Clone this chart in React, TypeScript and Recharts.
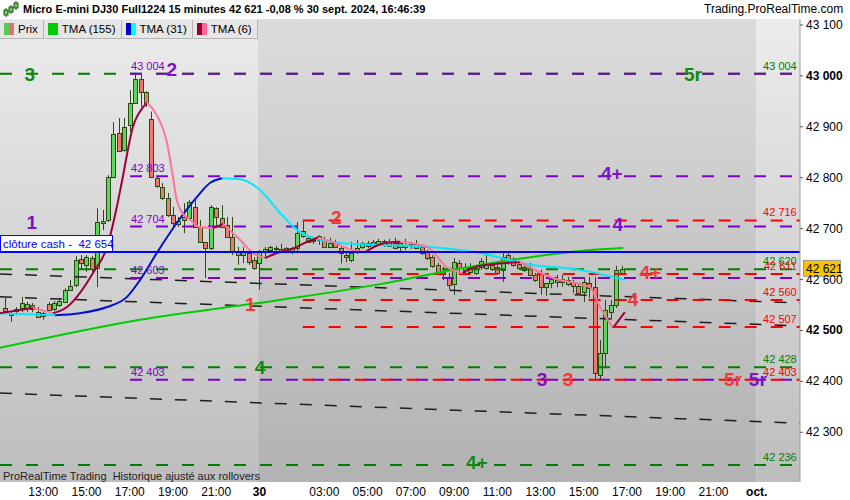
// 15-minute Micro E-mini DJ30 candles with three TMA lines, pivot levels
// (green / purple / red dashed), a down-sloping channel and the cash close.
import React from "react";
import {
  Bar, ComposedChart, Line, ReferenceArea, ReferenceDot, ReferenceLine, XAxis, YAxis,
} from "recharts";

const W = 850;
const H = 500;
const X_MAX = 148;
const Y_MIN = 42202.4;
const Y_MAX = 43111.7;
const FRI_END = 47.7;
const MON_END = 139.9;
const PURPLE_FROM = 24.05;
const RED_FROM = 56;

const FONT = "'Liberation Sans', Arial, sans-serif";
const NARROW = "'Liberation Sans Narrow', 'Liberation Sans', Arial, sans-serif";

const WICK = "#2b4a14";
const UP_BODY = "#5cd65c";
const DOWN_BODY = "#ec7a6e";
const COLORS: Record<string, string> = { green: "#008000", purple: "#7f00c8", red: "#ff0000" };
const TAG_COLORS: Record<string, string> = { green: "#108a10", purple: "#7f10c8", red: "#f03a3a" };

// bar #1 = Fri 11:15 ... bar #47 = Fri 22:45, bar #48 = Mon 00:00 ... bar #115 = Mon 16:45
const FIRST_BAR = 1;
const ohlc: [number, number, number, number][] = [
  [42544, 42564, 42536, 42538], [42530, 42536, 42517, 42534], [42538, 42546, 42530, 42542],
  [42544, 42566, 42536, 42554], [42544, 42556, 42536, 42552], [42550, 42554, 42536, 42542],
  [42536, 42546, 42526, 42527], [42528, 42536, 42521, 42534], [42552, 42556, 42538, 42540],
  [42542, 42558, 42538, 42554], [42550, 42564, 42546, 42558], [42556, 42583, 42554, 42579],
  [42579, 42599, 42579, 42587], [42589, 42646, 42585, 42638], [42640, 42648, 42619, 42632],
  [42629, 42648, 42615, 42644], [42642, 42646, 42615, 42621], [42623, 42740, 42585, 42713],
  [42711, 42737, 42697, 42715], [42717, 42805, 42713, 42801], [42801, 42909, 42799, 42886],
  [42888, 42917, 42851, 42852], [42854, 42917, 42851, 42900], [42903, 42972, 42890, 42947],
  [42947, 43006, 42945, 42994], [42994, 43002, 42939, 42968], [42968, 42970, 42939, 42947],
  [42915, 42930, 42799, 42801], [42799, 42803, 42780, 42784], [42782, 42790, 42756, 42760],
  [42760, 42770, 42723, 42727], [42727, 42743, 42703, 42711], [42709, 42723, 42703, 42715],
  [42723, 42750, 42691, 42717], [42721, 42756, 42717, 42752], [42742, 42756, 42703, 42703],
  [42703, 42717, 42674, 42674], [42674, 42674, 42603, 42662], [42662, 42746, 42658, 42742],
  [42740, 42742, 42703, 42723], [42721, 42746, 42701, 42703], [42707, 42723, 42682, 42684],
  [42684, 42723, 42648, 42654], [42654, 42664, 42629, 42648], [42648, 42664, 42632, 42654],
  [42652, 42658, 42629, 42634], [42638, 42644, 42619, 42623], [42632, 42658, 42580, 42654],
  [42654, 42664, 42644, 42660], [42658, 42666, 42652, 42664], [42662, 42666, 42656, 42660],
  [42660, 42670, 42652, 42656], [42658, 42664, 42652, 42662], [42656, 42664, 42650, 42662],
  [42662, 42713, 42654, 42691], [42685, 42717, 42682, 42695], [42682, 42687, 42672, 42674],
  [42676, 42680, 42670, 42678], [42678, 42687, 42668, 42685], [42678, 42684, 42662, 42664],
  [42664, 42682, 42662, 42672], [42672, 42678, 42662, 42664], [42662, 42664, 42632, 42652],
  [42648, 42652, 42634, 42644], [42638, 42674, 42634, 42652], [42656, 42678, 42650, 42662],
  [42664, 42674, 42660, 42672], [42666, 42676, 42662, 42672], [42668, 42678, 42664, 42674],
  [42670, 42680, 42666, 42676], [42668, 42678, 42664, 42676], [42674, 42680, 42664, 42666],
  [42672, 42682, 42660, 42662], [42664, 42674, 42656, 42672], [42664, 42680, 42658, 42668],
  [42666, 42674, 42660, 42670], [42670, 42678, 42660, 42662], [42664, 42668, 42648, 42652],
  [42654, 42658, 42638, 42642], [42644, 42648, 42623, 42627], [42629, 42633, 42609, 42613],
  [42611, 42625, 42599, 42617], [42605, 42613, 42580, 42589], [42591, 42642, 42570, 42634],
  [42632, 42638, 42609, 42623], [42619, 42632, 42609, 42625], [42625, 42632, 42611, 42615],
  [42613, 42629, 42609, 42623], [42625, 42642, 42619, 42636], [42623, 42652, 42619, 42633],
  [42629, 42635, 42617, 42621], [42625, 42635, 42609, 42613], [42619, 42652, 42595, 42644],
  [42648, 42654, 42629, 42638], [42640, 42644, 42625, 42629], [42630, 42634, 42619, 42623],
  [42624, 42630, 42615, 42619], [42623, 42633, 42607, 42609], [42609, 42613, 42595, 42599],
  [42613, 42619, 42570, 42585], [42585, 42593, 42568, 42593], [42593, 42603, 42583, 42601],
  [42595, 42609, 42585, 42599], [42601, 42609, 42586, 42595], [42591, 42605, 42587, 42599],
  [42595, 42599, 42573, 42587], [42587, 42593, 42573, 42574], [42575, 42605, 42556, 42595],
  [42593, 42605, 42564, 42583], [42585, 42605, 42405, 42416], [42413, 42481, 42403, 42456],
  [42456, 42560, 42428, 42540], [42536, 42560, 42524, 42550], [42550, 42627, 42544, 42619],
  [42613, 42627, 42609, 42621],
];

// [bar index, value]
const tma155: [number, number][] = [
  [0, 42466], [25.9, 42521], [51.8, 42560], [70.3, 42591], [80.8, 42613],
  [91.9, 42634], [98.1, 42644], [107.3, 42656], [115.3, 42662],
];
const tma31: [number, number][] = [
  [0, 42534], [10.2, 42530], [14.8, 42534], [19.8, 42546], [23.5, 42566], [25.9, 42599],
  [29, 42652], [32.7, 42711], [36.4, 42762], [38.9, 42790], [41.1, 42799], [44.4, 42797],
  [48.1, 42776], [51.8, 42731], [55.5, 42693], [59.2, 42678], [62.9, 42672], [70.3, 42668],
  [79.6, 42664], [88.8, 42652], [98.1, 42629], [107.3, 42619], [115.6, 42599],
];
const tma6: [number, number][] = [
  [0, 42534], [3.7, 42540], [6.1, 42544], [9.8, 42534], [12.4, 42546], [14.8, 42574],
  [17.2, 42613], [19.8, 42664], [21.6, 42742], [22.6, 42795], [24.6, 42900], [26.5, 42939],
  [27.2, 42947], [29, 42923], [30.9, 42868], [31.8, 42815], [32.7, 42756], [33.7, 42731],
  [35.2, 42717], [37, 42703], [39.4, 42701], [41.3, 42709], [44.4, 42678], [46.8, 42652],
  [49, 42642], [51.8, 42654], [54, 42660], [56.4, 42672], [58.8, 42682], [61.4, 42674],
  [65.1, 42658], [67.5, 42654], [71.2, 42672], [74, 42674], [79, 42664], [82.6, 42625],
  [85.6, 42613], [87.4, 42623], [91.9, 42631], [96.2, 42634], [102.3, 42603], [109.1, 42585],
  [111, 42546], [113.4, 42505], [115.6, 42536],
];

const greenLevels = [43004, 42620, 42428, 42236];
const purpleLevels = [43004, 42803, 42704, 42603, 42403];
const redLevels = [42716, 42611, 42560, 42507, 42403];
const cashClose = 42654;
// sloping channel: value at bar 0 and at the right edge
const channel: [number, number][] = [[42611, 42554], [42566, 42509], [42377, 42318]];

const tags = [
  { t: "3", i: 5.5, v: 43004, set: "green" }, { t: "2", i: 31.8, v: 43013, set: "purple" },
  { t: "5r", i: 128.2, v: 43004, set: "green" }, { t: "4+", i: 113.2, v: 42810, set: "purple" },
  { t: "1", i: 5.9, v: 42713, set: "purple" }, { t: "2", i: 62.2, v: 42722, set: "red" },
  { t: "4", i: 114.3, v: 42709, set: "purple" }, { t: "4+", i: 120.3, v: 42614, set: "red" },
  { t: "4", i: 117.1, v: 42561, set: "red" }, { t: "1", i: 46.3, v: 42551, set: "red" },
  { t: "4", i: 48.1, v: 42428, set: "green" }, { t: "3", i: 100.3, v: 42404, set: "purple" },
  { t: "3", i: 105.1, v: 42404, set: "red" }, { t: "5r", i: 135.6, v: 42404, set: "red" },
  { t: "5r", i: 140.2, v: 42404, set: "purple" }, { t: "4+", i: 88.2, v: 42241, set: "green" },
];

const xTicks = [8, 16, 24, 32, 40, 48, 60, 68, 76, 84, 92, 100, 108, 116, 124, 132, 140];
const xLabels = ["13:00", "15:00", "17:00", "19:00", "21:00", "30", "03:00", "05:00", "07:00",
  "09:00", "11:00", "13:00", "15:00", "17:00", "19:00", "21:00", "oct."];
const yTicks = [42300, 42400, 42500, 42600, 42700, 42800, 42900, 43000, 43100];
const boldY = [43000, 42500];

const fmt = (v: number) => `${Math.floor(v / 1000)} ${String(Math.round(v) % 1000).padStart(3, "0")}`;

const data = ohlc.map(([o, h, l, c], k) => ({ i: FIRST_BAR + k, o, h, l, c, range: [l, h] }));
const last = ohlc[ohlc.length - 1][3];

// split a curve into rising / falling runs (the TMAs change colour with direction)
function runs(pts: [number, number][]) {
  const out: { up: boolean; pts: { i: number; v: number }[] }[] = [];
  for (let k = 1; k < pts.length; k++) {
    const up = pts[k][1] >= pts[k - 1][1];
    const cur = out[out.length - 1];
    const p = { i: pts[k][0], v: pts[k][1] };
    if (cur && cur.up === up) cur.pts.push(p);
    else out.push({ up, pts: [{ i: pts[k - 1][0], v: pts[k - 1][1] }, p] });
  }
  return out;
}

function Candle(props: any) {
  const { x, y, width, height, payload } = props;
  if (!payload) return null;
  const top = Math.min(y, y + height);
  const bot = Math.max(y, y + height);
  const { o, h, l, c } = payload;
  const k = h === l ? 0 : (bot - top) / (h - l);
  const py = (v: number) => top + (h - v) * k;
  const cx = Math.round(x + width / 2) + 0.5;
  const bt = Math.round(py(Math.max(o, c))) + 0.5;
  const bb = Math.round(py(Math.min(o, c))) + 0.5;
  return (
    <g>
      <line x1={cx} x2={cx} y1={top} y2={bot} stroke={WICK} strokeWidth={1} />
      <rect x={cx - 2} y={bt} width={4} height={Math.max(bb - bt, 1)}
        fill={c >= o ? UP_BODY : DOWN_BODY} stroke={WICK} strokeWidth={1} />
    </g>
  );
}

const XTick = (p: any) => {
  const lab = xLabels[xTicks.indexOf(p.payload.value)];
  const bold = lab === "30" || lab === "oct.";
  return (
    <text x={p.x} y={p.y + 14} textAnchor="middle" fontSize={12} fontFamily={NARROW}
      fontWeight={bold ? 700 : 400} fill="#000">{lab}</text>
  );
};

const YTick = (p: any) => (
  <text x={p.x} y={p.y + 4} textAnchor="start" fontSize={12} fontFamily={FONT}
    fontWeight={boldY.includes(p.payload.value) ? 700 : 400} fill="#000">{fmt(p.payload.value)}</text>
);

const edgeLabel = (text: string, color: string, anchor: "start" | "end") => (p: any) => {
  const vb = p.viewBox || {};
  return (
    <text x={vb.x} y={vb.y - 4} textAnchor={anchor} fontSize={11} fontFamily={FONT} fill={color}>{text}</text>
  );
};

const tagLabel = (text: string, color: string) => (p: any) => {
  const vb = p.viewBox || {};
  return (
    <text x={vb.x} y={vb.y + 7} textAnchor="middle" fontSize={19} fontWeight={700}
      fontFamily={FONT} fill={color}>{text}</text>
  );
};

const cashLabel = (p: any) => {
  const vb = p.viewBox || {};
  return (
    <g>
      <rect x={vb.x + 0.5} y={vb.y - 16.5} width={112} height={16} fill="#fff" stroke="#0000ff" />
      <text x={vb.x + 3} y={vb.y - 4.5} fontSize={11.5} fontFamily={FONT} fill="#0000ff"
        style={{ whiteSpace: "pre" }}>{`clôture cash -  ${fmt(cashClose)}`}</text>
    </g>
  );
};

const priceTag = (p: any) => {
  const vb = p.viewBox || {};
  return (
    <g>
      <rect x={vb.x + 3.5} y={vb.y - 8.5} width={37} height={16} fill="#f7c600" stroke="#999" />
      <text x={vb.x + 6} y={vb.y + 4} fontSize={12} fontFamily={FONT} fill="#000">{fmt(last)}</text>
    </g>
  );
};

const legend = [
  { name: "Prix", a: "#55cc55", b: "#e07070" },
  { name: "TMA (155)", a: "#00cc00", b: "#00cc00" },
  { name: "TMA (31)", a: "#0000cc", b: "#00ffff" },
  { name: "TMA (6)", a: "#990033", b: "#ff6699" },
];

const dashed = (levels: number[], set: string, from: number) =>
  levels.map((v) => (
    <ReferenceLine key={`${set}${v}`} segment={[{ x: from, y: v }, { x: X_MAX, y: v }]}
      stroke={COLORS[set]} strokeWidth={2} strokeDasharray="12 14" ifOverflow="visible" />
  ));

export default function App() {
  const r155 = [{ up: true, pts: tma155.map(([i, v]) => ({ i, v })) }];
  const r31 = runs(tma31);
  const r6 = runs(tma6);
  return (
    <div style={{ position: "absolute", left: 0, top: 0, width: W, height: H, background: "#fff", fontFamily: FONT }}>
      <ComposedChart width={W} height={H} data={data} margin={{ top: 19, right: 0, bottom: 0, left: 0 }}>
        <defs>
          <linearGradient id="bgLight" x1="0" y1="0" x2="0" y2="1">
            <stop offset="0%" stopColor="#ececec" />
            <stop offset="100%" stopColor="#bdbdbd" />
          </linearGradient>
          <linearGradient id="bgDark" x1="0" y1="0" x2="0" y2="1">
            <stop offset="0%" stopColor="#dcdcdc" />
            <stop offset="100%" stopColor="#b2b2b2" />
          </linearGradient>
        </defs>
        <XAxis type="number" dataKey="i" domain={[0, X_MAX]} ticks={xTicks} interval={0} allowDataOverflow
          height={18} axisLine={false} tickLine={false} tickSize={0} tickMargin={0} tick={XTick} />
        <YAxis orientation="right" domain={[Y_MIN, Y_MAX]} ticks={yTicks} interval={0} allowDataOverflow
          width={50} axisLine={{ stroke: "#9a9a9a" }} tickLine={{ stroke: "#555" }} tickSize={3} tickMargin={3}
          tick={YTick} />
        <ReferenceArea x1={0} x2={FRI_END} fill="url(#bgLight)" fillOpacity={1} strokeWidth={0} />
        <ReferenceArea x1={FRI_END} x2={MON_END} fill="url(#bgDark)" fillOpacity={1} strokeWidth={0} />
        <ReferenceArea x1={MON_END} x2={X_MAX} fill="url(#bgLight)" fillOpacity={1} strokeWidth={0} />

        {channel.map(([a, b], k) => (
          <ReferenceLine key={`ch${k}`} segment={[{ x: 0, y: a }, { x: X_MAX, y: b }]}
            stroke="#1e1e1e" strokeWidth={1.5} strokeDasharray="12 13" ifOverflow="visible" />
        ))}
        {dashed(greenLevels, "green", 0)}
        {dashed(purpleLevels, "purple", PURPLE_FROM)}
        {dashed(redLevels, "red", RED_FROM)}

        <Bar dataKey="range" shape={Candle} barSize={4} isAnimationActive={false} />

        {r155.map((r, k) => (
          <Line key={`g${k}`} data={r.pts} dataKey="v" type="monotone" stroke="#00cc00" strokeWidth={2}
            dot={false} isAnimationActive={false} />
        ))}
        {r31.map((r, k) => (
          <Line key={`b${k}`} data={r.pts} dataKey="v" type="monotone" stroke={r.up ? "#0010cc" : "#00e8ff"}
            strokeWidth={2} dot={false} isAnimationActive={false} />
        ))}
        {r6.map((r, k) => (
          <Line key={`r${k}`} data={r.pts} dataKey="v" type="monotone" stroke={r.up ? "#a0003a" : "#ff7498"}
            strokeWidth={2} dot={false} isAnimationActive={false} />
        ))}

        <ReferenceLine y={cashClose} stroke="#0000ff" strokeWidth={2} label={cashLabel} ifOverflow="visible" />

        {greenLevels.map((v) => (
          <ReferenceDot key={`gl${v}`} x={147.4} y={v} r={0} fill="none" stroke="none" ifOverflow="visible"
            label={edgeLabel(fmt(v), COLORS.green, "end")} />
        ))}
        {redLevels.map((v) => (
          <ReferenceDot key={`rl${v}`} x={147.4} y={v} r={0} fill="none" stroke="none" ifOverflow="visible"
            label={edgeLabel(fmt(v), COLORS.red, "end")} />
        ))}
        {purpleLevels.map((v) => (
          <ReferenceDot key={`pl${v}`} x={PURPLE_FROM + 0.2} y={v} r={0} fill="none" stroke="none" ifOverflow="visible"
            label={edgeLabel(fmt(v), COLORS.purple, "start")} />
        ))}
        {tags.map((g, k) => (
          <ReferenceDot key={`t${k}`} x={g.i} y={g.v} r={0} fill="none" stroke="none" ifOverflow="visible"
            label={tagLabel(g.t, TAG_COLORS[g.set])} />
        ))}
        <ReferenceDot x={X_MAX} y={last} r={0} fill="none" stroke="none" ifOverflow="visible" label={priceTag} />
      </ComposedChart>

      <div style={{ position: "absolute", left: 0, top: 0, width: W, height: 19, background: "#fff",
        whiteSpace: "nowrap" }}>
        <svg width={20} height={18} style={{ position: "absolute", left: 1, top: 0 }}>
          <line x1={5} x2={5} y1={8} y2={17} stroke="#2b4a14" />
          <rect x={3} y={10} width={4} height={5} fill="#5cd65c" stroke="#2b4a14" />
          <line x1={10} x2={10} y1={5} y2={14} stroke="#2b4a14" />
          <rect x={8} y={7} width={4} height={5} fill="#5cd65c" stroke="#2b4a14" />
          <line x1={15} x2={15} y1={1} y2={10} stroke="#2b4a14" />
          <rect x={13} y={3} width={4} height={5} fill="#5cd65c" stroke="#2b4a14" />
        </svg>
        <span style={{ position: "absolute", left: 23, top: 3, fontWeight: 700, fontSize: 11, color: "#000" }}>
          Micro E-mini DJ30 Full1224 15 minutes 42 621 -0,08 % 30 sept. 2024, 16:46:39
        </span>
        <span style={{ position: "absolute", left: 704, top: 2, fontSize: 12, color: "#000" }}>
          Trading.ProRealTime.com
        </span>
      </div>

      <div style={{ position: "absolute", left: 0, top: 20, display: "flex", height: 19 }}>
        {legend.map((g) => (
          <div key={g.name} style={{ display: "flex", alignItems: "center", gap: 4, padding: "0 5px 0 4px",
            background: "#e6e6e6", borderRight: "1px solid #b4b4b4", borderBottom: "1px solid #b4b4b4",
            fontSize: 11.5, color: "#000" }}>
            <span style={{ display: "inline-flex", width: 10, height: 12 }}>
              <span style={{ width: 5, background: g.a }} />
              <span style={{ width: 5, background: g.b }} />
            </span>
            {g.name}
          </div>
        ))}
      </div>

      <div style={{ position: "absolute", left: 3, top: 470, fontSize: 11, color: "#222", fontFamily: NARROW,
        whiteSpace: "pre" }}>
        ProRealTime Trading  Historique ajusté aux rollovers
      </div>
    </div>
  );
}
